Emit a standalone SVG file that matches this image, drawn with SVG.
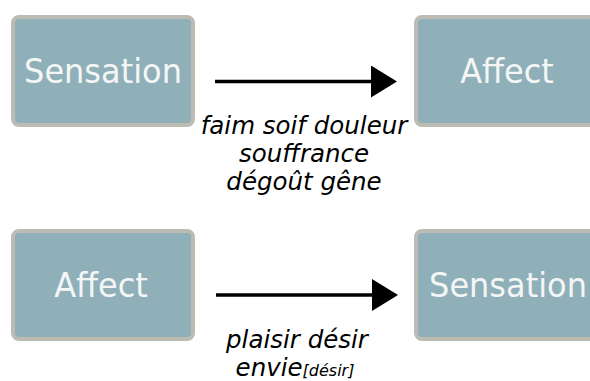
<svg xmlns="http://www.w3.org/2000/svg" width="590" height="381" viewBox="0 0 590 381">
<style>
.box{fill:#8fb0b9;stroke:#bcbcb2;stroke-width:4}
.nt{font-family:"DejaVu Sans",sans-serif;font-size:32px;fill:#f4f6f6;text-anchor:middle}
.lbl{font-family:"DejaVu Sans",sans-serif;font-size:24.5px;font-style:italic;fill:#000;text-anchor:middle}
.sm{font-size:16px}
.ln{stroke:#000;stroke-width:3.5;fill:none}
</style>
<defs>
<marker id="ah" markerUnits="userSpaceOnUse" markerWidth="26" markerHeight="32" refX="0" refY="16" orient="auto">
<path d="M0,0 L26,16 L0,32 Z" fill="#000"/>
</marker>
</defs>
<rect width="590" height="381" fill="#fff"/>
<g id="n1"><rect class="box" x="13" y="17" width="180" height="108" rx="6"/><text class="nt" transform="translate(103,83) scale(1,1.08)">Sensation</text></g>
<g id="n2"><rect class="box" x="416" y="17" width="180" height="108" rx="6"/><text class="nt" transform="translate(507,83) scale(1,1.08)">Affect</text></g>
<g id="n3"><rect class="box" x="13" y="231" width="180" height="108" rx="6"/><text class="nt" transform="translate(101,297) scale(1,1.08)">Affect</text></g>
<g id="n4"><rect class="box" x="416" y="231" width="180" height="108" rx="6"/><text class="nt" transform="translate(508,297) scale(1,1.08)">Sensation</text></g>
<g id="connectors">
<line class="ln" x1="215" y1="81.5" x2="371" y2="81.5" marker-end="url(#ah)"/>
<line class="ln" x1="216" y1="295" x2="372" y2="295" marker-end="url(#ah)"/>
<text class="lbl" x="304" y="134">faim soif douleur</text>
<text class="lbl" x="304" y="162">souffrance</text>
<text class="lbl" x="304" y="190">dégoût gêne</text>
<text class="lbl" x="297" y="348">plaisir désir</text>
<text class="lbl" x="295" y="376">envie<tspan class="sm">[désir]</tspan></text>
</g>
</svg>
